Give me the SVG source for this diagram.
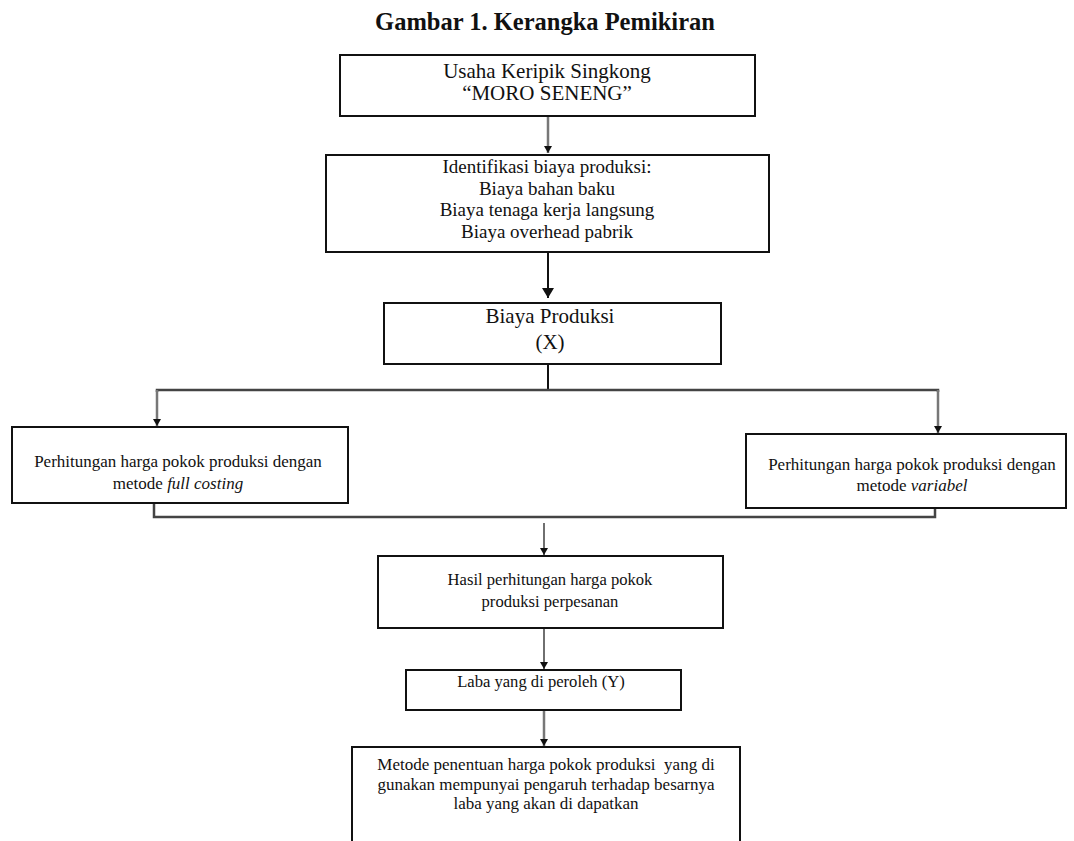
<svg xmlns="http://www.w3.org/2000/svg" width="1074" height="841" viewBox="0 0 1074 841">
<style>
.bg{fill:#fff}
.box{fill:#fff;stroke:#111;stroke-width:2}
.t{font-family:"Liberation Serif","Times New Roman",serif;fill:#111;text-anchor:middle}
.title{font-family:"Liberation Serif","Times New Roman",serif;font-weight:bold;font-size:24.5px;fill:#111;text-anchor:middle}
.thin{fill:none;stroke:#222;stroke-width:1.3}
.gray{fill:none;stroke:#777;stroke-width:2.5}
.bus{fill:none;stroke:#444;stroke-width:2.5}
.thick{fill:none;stroke:#111;stroke-width:2}
</style>
<defs>
<marker id="ah" markerUnits="userSpaceOnUse" markerWidth="9" markerHeight="10" refX="8" refY="5" orient="auto" viewBox="0 0 9 10">
<path d="M1,1 L8,5 L1,9 Z" fill="#111"/>
</marker>
<marker id="ahBig" markerUnits="userSpaceOnUse" markerWidth="12" markerHeight="14" refX="11" refY="7" orient="auto" viewBox="0 0 12 14">
<path d="M1,1 L11,7 L1,13 Z" fill="#111"/>
</marker>
</defs>
<rect class="bg" x="0" y="0" width="1074" height="841"/>
<text class="title" x="545" y="30">Gambar 1. Kerangka Pemikiran</text>

<g id="connectors">
<line class="gray" x1="548" y1="117" x2="548" y2="153" marker-end="url(#ah)"/>
<line class="thick" x1="548" y1="253" x2="548" y2="298" marker-end="url(#ahBig)"/>
<line class="thick" x1="548" y1="364" x2="548" y2="390"/>
<polyline class="bus" points="157,392 157,390 938,390 938,392"/>
<line class="gray" x1="157" y1="390" x2="157" y2="426" marker-end="url(#ah)"/>
<line class="gray" x1="938" y1="390" x2="938" y2="433" marker-end="url(#ah)"/>
<polyline class="bus" points="154,503 154,517 935,517 935,508"/>
<line class="thin" x1="544" y1="523" x2="544" y2="555" marker-end="url(#ah)"/>
<line class="thin" x1="544" y1="629" x2="544" y2="669" marker-end="url(#ah)"/>
<line class="gray" x1="544" y1="711" x2="544" y2="746" marker-end="url(#ah)"/>
</g>

<g id="node-usaha">
<rect class="box" x="340" y="55" width="415" height="61"/>
<text class="t" x="547" y="78" font-size="21">Usaha Keripik Singkong</text>
<text class="t" x="547" y="100" font-size="21">“MORO SENENG”</text>
</g>

<g id="node-identifikasi">
<rect class="box" x="326" y="155" width="443" height="97"/>
<text class="t" x="547" y="173" font-size="19">Identifikasi biaya produksi:</text>
<text class="t" x="547" y="195" font-size="19">Biaya bahan baku</text>
<text class="t" x="547" y="216" font-size="19">Biaya tenaga kerja langsung</text>
<text class="t" x="547" y="238" font-size="19">Biaya overhead pabrik</text>
</g>

<g id="node-biaya-produksi">
<rect class="box" x="384" y="303" width="337" height="61"/>
<text class="t" x="550" y="323" font-size="21">Biaya Produksi</text>
<text class="t" x="550" y="349" font-size="21">(X)</text>
</g>

<g id="node-full-costing">
<rect class="box" x="12" y="427" width="336" height="76"/>
<text class="t" x="178" y="467" font-size="17">Perhitungan harga pokok produksi dengan</text>
<text class="t" x="178" y="489" font-size="17">metode <tspan font-style="italic">full costing</tspan></text>
</g>

<g id="node-variabel">
<rect class="box" x="746" y="434" width="320" height="74"/>
<text class="t" x="912" y="470" font-size="17">Perhitungan harga pokok produksi dengan</text>
<text class="t" x="912" y="491" font-size="17">metode <tspan font-style="italic">variabel</tspan></text>
</g>

<g id="node-hasil">
<rect class="box" x="378" y="556" width="345" height="72"/>
<text class="t" x="550" y="585" font-size="16.6">Hasil perhitungan harga pokok</text>
<text class="t" x="550" y="607" font-size="16.6">produksi perpesanan</text>
</g>

<g id="node-laba">
<rect class="box" x="406" y="670" width="275" height="40"/>
<text class="t" x="541" y="687" font-size="16.6">Laba yang di peroleh (Y)</text>
</g>

<g id="node-metode">
<rect class="box" x="352" y="747" width="388" height="120"/>
<text class="t" x="546" y="770" font-size="17" xml:space="preserve">Metode penentuan harga pokok produksi  yang di</text>
<text class="t" x="546" y="790" font-size="17">gunakan mempunyai pengaruh terhadap besarnya</text>
<text class="t" x="546" y="809" font-size="17">laba yang akan di dapatkan</text>
</g>
</svg>
